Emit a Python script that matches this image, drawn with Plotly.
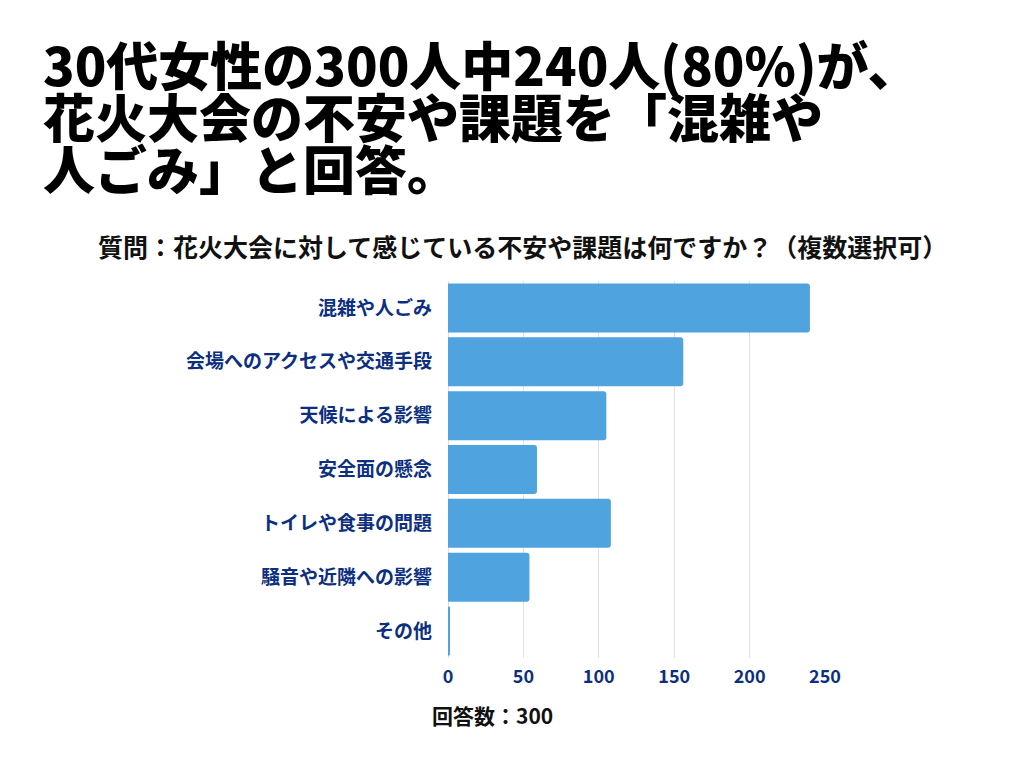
import plotly.graph_objects as go

# data
categories = ['混雑や人ごみ', '会場へのアクセスや交通手段', '天候による影響', '安全面の懸念',
              'トイレや食事の問題', '騒音や近隣への影響', 'その他']
counts = [240, 156, 105, 59, 108, 54, 1]
x_ticks = [0, 50, 100, 150, 200, 250]

title_lines = ['30代女性の300人中240人(80%)が、',
               '花火大会の不安や課題を「混雑や',
               '人ごみ」と回答。']
subtitle = '質問：花火大会に対して感じている不安や課題は何ですか？（複数選択可）'
note = '回答数：300'

W, H = 1024, 768
OFF = 8  # page body margin
L, T = 448 - OFF, 281 - OFF
R, B = W - (825 - OFF), H - (658 - OFF)
PW, PH = W - L - R, H - T - B

FONT = 'Noto Sans CJK JP'
NAVY = '#0d2f80'


def px_x(px):
    return (px - OFF - L) / PW


def px_y(py):
    return (H - B - (py - OFF)) / PH


bar = go.Bar(x=counts, y=categories, orientation='h',
             marker=dict(color='#4fa3de', line=dict(width=0)),
             hoverinfo='x+y')

# one text block; line pitch from the 40px base font, glyphs drawn at 52px
title_text = '<br>'.join('<span style="font-size:52px">%s</span>' % s for s in title_lines)

annotations = [
    dict(text=title_text, xref='paper', yref='paper',
         x=px_x(41), y=px_y(115), xanchor='left', yanchor='middle', align='left',
         showarrow=False,
         font=dict(family=FONT, size=40, color='#000000', weight=900)),
    dict(text=subtitle, xref='paper', yref='paper',
         x=px_x(522), y=px_y(246), xanchor='center', yanchor='middle',
         showarrow=False,
         font=dict(family=FONT, size=25, color='#111111', weight='bold')),
    dict(text=note, xref='paper', yref='paper',
         x=px_x(430), y=px_y(715), xanchor='left', yanchor='middle',
         showarrow=False,
         font=dict(family=FONT, size=21, color='#111111', weight='bold')),
]

layout = go.Layout(width=W, height=H, autosize=False,
                   margin=dict(l=L, r=R, t=T, b=B),
                   paper_bgcolor='white', plot_bgcolor='white',
                   bargap=0.09, barcornerradius=3,
                   showlegend=False,
                   xaxis=dict(range=[0, 250], tickvals=x_ticks, showgrid=True,
                              gridcolor='#dfe2ec', gridwidth=1,
                              zeroline=True, zerolinecolor='#dfe2ec', zerolinewidth=1,
                              showline=False, ticks='', ticklabelstandoff=6,
                              tickfont=dict(family=FONT, size=18, color=NAVY, weight='bold')),
                   yaxis=dict(autorange='reversed', showgrid=False, zeroline=False,
                              showline=False, ticks='', ticklabelstandoff=15,
                              tickfont=dict(family=FONT, size=19, color=NAVY, weight='bold')),
                   annotations=annotations)

fig = go.Figure(data=[bar], layout=layout)
fig.write_html('out.html')
